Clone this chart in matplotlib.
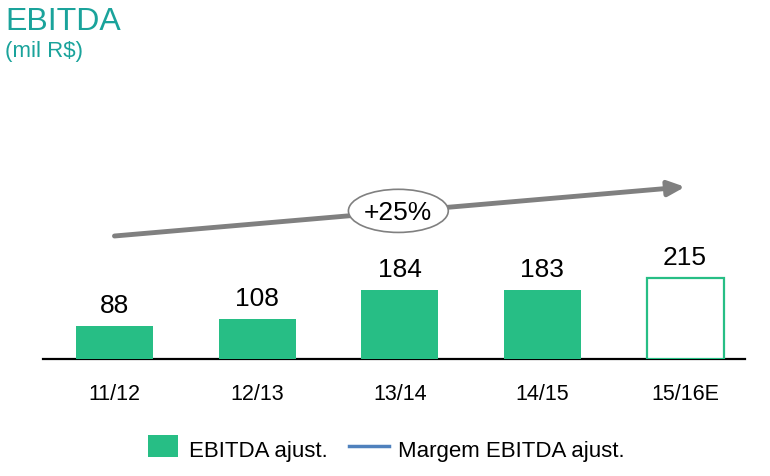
import matplotlib
matplotlib.use("Agg")
import matplotlib.pyplot as plt
from matplotlib.patches import Ellipse, FancyArrowPatch, Rectangle
from matplotlib.lines import Line2D

plt.rcParams['font.family'] = ['Liberation Sans', 'DejaVu Sans']

categories = ["11/12", "12/13", "13/14", "14/15", "15/16E"]
values = [88, 108, 184, 183, 215]
projected = [False, False, False, False, True]
cagr_label = "+25%"
title = "EBITDA"
subtitle = "(mil R$)"
legend_labels = ["EBITDA ajust.", "Margem EBITDA ajust."]

GREEN = "#27BE85"
TEAL = "#1AA39B"
GRAY = "#808080"
BLUE = "#4F81BD"

W, H = 770, 477
fig = plt.figure(figsize=(W / 100, H / 100), dpi=100)
ax = fig.add_axes([43 / W, 117 / H, 702 / W, 300 / H])

x = list(range(len(categories)))
for xi, v, p in zip(x, values, projected):
    if p:
        ax.bar(xi, v, width=0.54, facecolor="white", edgecolor=GREEN, linewidth=1.6, zorder=3)
    else:
        ax.bar(xi, v, width=0.54, color=GREEN, linewidth=0, zorder=3)
    ax.annotate(str(v), (xi, v), xytext=(0, 10), textcoords="offset points",
                ha="center", va="baseline", fontsize=19, color="black")

ax.set_xlim(-0.501, 4.42)
ax.set_ylim(0, 800)
ax.set_xticks(x)
ax.set_xticklabels(categories, fontsize=15.5)
ax.tick_params(axis="x", length=0, pad=17)
ax.set_yticks([])
for s in ["top", "right", "left"]:
    ax.spines[s].set_visible(False)
ax.spines["bottom"].set_linewidth(1.6)
ax.spines["bottom"].set_color("black")

# growth arrow
arrow = FancyArrowPatch((0, 328), (4.0, 459), arrowstyle="-|>,head_length=1.0,head_width=0.45",
                        mutation_scale=10, color=GRAY, linewidth=3.5, shrinkA=0, shrinkB=0,
                        zorder=4, clip_on=False)
ax.add_patch(arrow)
ell = Ellipse((1.99, 395), 0.70, 115, facecolor="white", edgecolor=GRAY, linewidth=1.2, zorder=5)
ax.add_patch(ell)
ax.text(1.99, 393, cagr_label, ha="center", va="center", fontsize=19, zorder=6)

# titles
fig.text(5 / W, 1 - 30 / H, title, fontsize=23, color=TEAL, va="baseline", ha="left")
fig.text(5 / W, 1 - 57 / H, subtitle, fontsize=16, color=TEAL, va="baseline", ha="left")

# legend
fig.patches.append(Rectangle((148 / W, 1 - 458 / H), 30 / W, 22 / H, transform=fig.transFigure,
                             facecolor=GREEN, edgecolor="none"))
fig.text(189 / W, 1 - 457 / H, legend_labels[0], fontsize=16, va="baseline", ha="left")
fig.lines.append(Line2D([349 / W, 389 / W], [1 - 447 / H, 1 - 447 / H], transform=fig.transFigure,
                        color=BLUE, linewidth=2.5))
fig.text(398 / W, 1 - 457 / H, legend_labels[1], fontsize=16, va="baseline", ha="left")

fig.savefig("out.png", dpi=100)
